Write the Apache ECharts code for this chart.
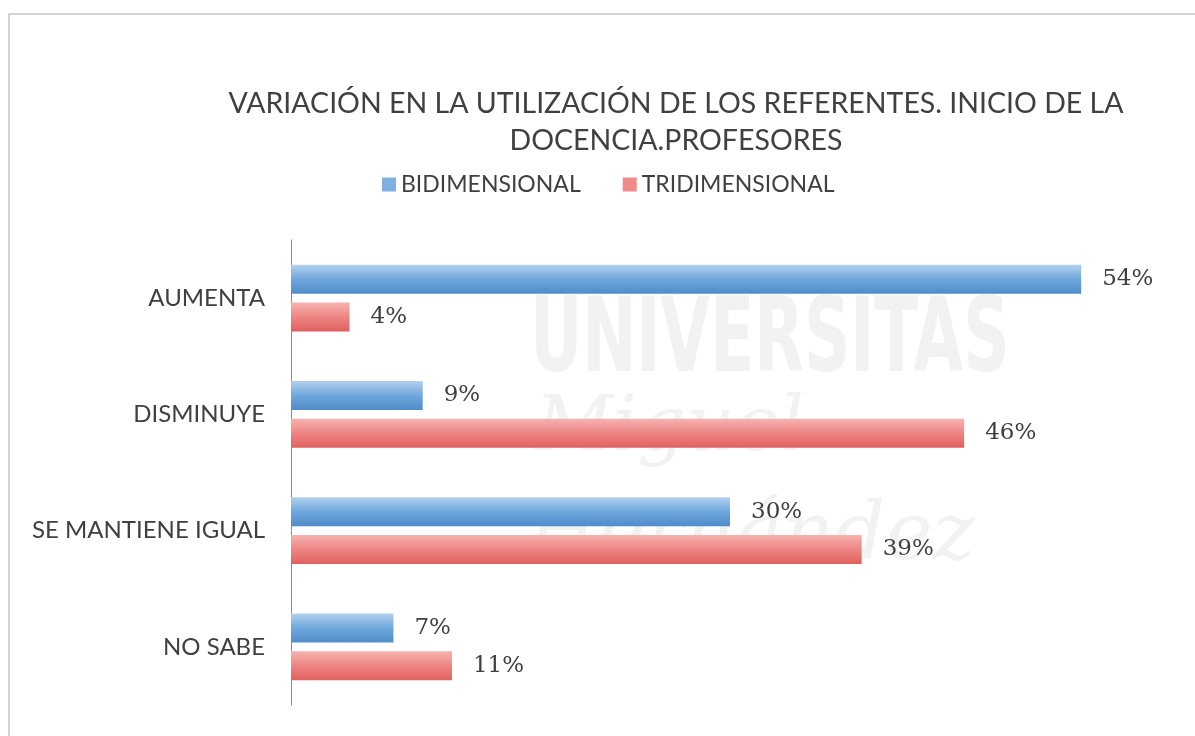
<!DOCTYPE html>
<html>
<head>
<meta charset="utf-8">
<script src="https://cdn.jsdelivr.net/npm/echarts@6/dist/echarts.min.js"></script>
<style>
  html, body { margin: 0; padding: 0; background: #fff; }
  #chart { width: 1195px; height: 736px; }
</style>
</head>
<body>
<div id="chart"></div>
<script>
const categories = ["AUMENTA", "DISMINUYE", "SE MANTIENE IGUAL", "NO SABE"];
const bidimensional = [54, 9, 30, 7];
const tridimensional = [4, 46, 39, 11];

const myChart = echarts.init(document.getElementById("chart"));

const blueFill = new echarts.graphic.LinearGradient(0, 0, 0, 1, [
  { offset: 0, color: "#b3d1ee" },
  { offset: 0.5, color: "#6fa7dc" },
  { offset: 1, color: "#4f8cc9" },
]);
const redFill = new echarts.graphic.LinearGradient(0, 0, 0, 1, [
  { offset: 0, color: "#f6b3b1" },
  { offset: 0.5, color: "#ee8583" },
  { offset: 1, color: "#e0605e" },
]);

const valueLabel = {
  show: true,
  position: "right",
  distance: 21,
  formatter: "{c}%",
  fontFamily: "DejaVu Serif, serif",
  fontSize: 23,
  color: "#404040",
};

// faint watermark behind the plot
const mark = { fill: "#f2f2f2" };

myChart.setOption({
  animation: false,
  textStyle: { fontFamily: "Lato, sans-serif" },
  title: {
    text: "VARIACIÓN EN LA UTILIZACIÓN DE LOS REFERENTES. INICIO DE LA\nDOCENCIA.PROFESORES",
    left: 671,
    top: 80,
    textAlign: "center",
    textStyle: {
      fontFamily: "Lato, sans-serif",
      fontWeight: "normal",
      fontSize: 28.5,
      lineHeight: 37,
      color: "#404040",
    },
  },
  legend: {
    top: 168,
    left: 377,
    itemWidth: 14,
    itemHeight: 14,
    itemGap: 42,
    icon: "rect",
    textStyle: { fontFamily: "Lato, sans-serif", fontSize: 23, color: "#404040" },
    data: [
      { name: "BIDIMENSIONAL", itemStyle: { color: "#7fb0e0" } },
      { name: "TRIDIMENSIONAL", itemStyle: { color: "#ef8a88" } },
    ],
  },
  graphic: [
    {
      type: "rect",
      shape: { x: 9, y: 14, width: 1300, height: 900 },
      style: { fill: "none", stroke: "#d4d4d4", lineWidth: 2 },
      z: -10,
    },
    {
      type: "text",
      x: 530,
      y: 292,
      scaleX: 0.62,
      style: Object.assign({ text: "UNIVERSITAS", fontFamily: "DejaVu Sans", fontWeight: "bold", fontSize: 104 }, mark),
      z: -5,
    },
    {
      type: "text",
      x: 535,
      y: 392,
      style: Object.assign({ text: "Miguel", fontFamily: "DejaVu Serif", fontStyle: "italic", fontSize: 76 }, mark),
      z: -5,
    },
    {
      type: "text",
      x: 528,
      y: 498,
      style: Object.assign({ text: "Hernández", fontFamily: "DejaVu Serif", fontStyle: "italic", fontSize: 80 }, mark),
      z: -5,
    },
  ],
  grid: { left: 291, right: 26, top: 240, bottom: 31 },
  xAxis: {
    type: "value",
    min: 0,
    max: 60,
    show: false,
    splitLine: { show: false },
  },
  yAxis: {
    type: "category",
    inverse: true,
    data: categories,
    axisLine: { show: true, lineStyle: { color: "#8c8c8c", width: 1 } },
    axisTick: { show: false },
    axisLabel: { margin: 26, fontFamily: "Lato, sans-serif", fontSize: 24, color: "#404040" },
  },
  series: [
    {
      name: "BIDIMENSIONAL",
      type: "bar",
      data: bidimensional,
      barWidth: 29,
      barGap: "30%",
      itemStyle: { color: blueFill },
      label: valueLabel,
    },
    {
      name: "TRIDIMENSIONAL",
      type: "bar",
      data: tridimensional,
      barWidth: 29,
      itemStyle: { color: redFill },
      label: valueLabel,
    },
  ],
});
</script>
</body>
</html>
